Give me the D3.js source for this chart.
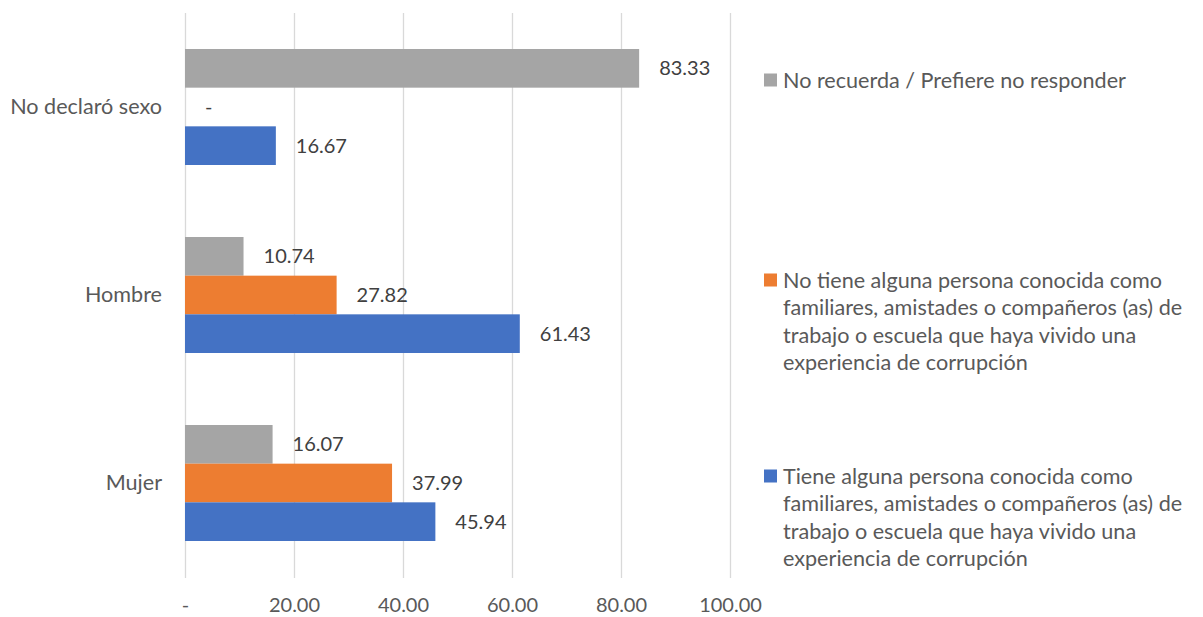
<!DOCTYPE html>
<html>
<head>
<meta charset="utf-8">
<script src="https://cdn.jsdelivr.net/npm/d3@7"></script>
<style>
  html, body { margin: 0; padding: 0; background: #fff; }
  svg { display: block; }
  text { font-family: Lato, "Open Sans", sans-serif; }
</style>
</head>
<body>
<svg id="chart" width="1203" height="617"></svg>
<script>
// Categories, top to bottom
const categories = ["No declaró sexo", "Hombre", "Mujer"];

// Series, in legend order (top to bottom inside each group)
const seriesNames = [
  "No recuerda / Prefiere no responder",
  "No tiene alguna persona conocida como familiares, amistades o compañeros (as) de trabajo o escuela que haya vivido una experiencia de corrupción",
  "Tiene alguna persona conocida como familiares, amistades o compañeros (as) de trabajo o escuela que haya vivido una experiencia de corrupción"
];
const noRecuerda = [83.33, 10.74, 16.07];
const noTiene    = [0, 27.82, 37.99];
const tiene      = [16.67, 61.43, 45.94];
const seriesValues = [noRecuerda, noTiene, tiene];
const seriesColors = ["#A5A5A5", "#ED7D31", "#4472C4"];

const xTicks = [0, 20, 40, 60, 80, 100];

const svg = d3.select("#chart");
const plot = { left: 185, right: 730, top: 13, bottom: 577 };
const numSize = 20, textSize = 21.6;

const x = d3.scaleLinear().domain([0, 100]).range([plot.left, plot.right]);
const y0 = d3.scaleBand().domain(categories).range([plot.top, plot.bottom])
  .paddingInner(0.383).paddingOuter(0.1915);
const y1 = d3.scaleBand().domain(d3.range(seriesNames.length)).range([0, y0.bandwidth()]);

// Accounting-style number format: zero shown as a dash
const fmt = v => v === 0 ? "-" : d3.format(",.2f")(v);

// Vertical gridlines
svg.append("g").selectAll("line").data(xTicks).join("line")
  .attr("x1", d => x(d) + 0.5).attr("x2", d => x(d) + 0.5)
  .attr("y1", plot.top).attr("y2", plot.bottom + 1)
  .attr("stroke", "#D9D9D9").attr("stroke-width", 1.3);

// X axis tick labels
const xAxis = d3.axisBottom(x).tickValues(xTicks).tickFormat(fmt).tickSize(0).tickPadding(0);
const gx = svg.append("g").attr("transform", `translate(0,${plot.bottom + 28})`).call(xAxis);
gx.select(".domain").remove();
gx.selectAll("text").attr("font-family", "Lato, 'Open Sans', sans-serif")
  .attr("font-size", numSize).attr("fill", "#595959").attr("dy", "0.35em").attr("y", 0);

// Category labels
const yAxis = d3.axisLeft(y0).tickSize(0).tickPadding(23);
const gy = svg.append("g").attr("transform", `translate(${plot.left},0)`).call(yAxis);
gy.select(".domain").remove();
gy.selectAll("text").attr("font-family", "Lato, 'Open Sans', sans-serif")
  .attr("font-size", textSize).attr("fill", "#595959");

// Bars and value labels
const rows = [];
categories.forEach((c, ci) => {
  seriesValues.forEach((vals, si) => rows.push({ cat: c, s: si, v: vals[ci] }));
});

const groups = svg.append("g");
groups.selectAll("rect").data(rows).join("rect")
  .attr("x", x(0))
  .attr("y", d => y0(d.cat) + y1(d.s))
  .attr("width", d => x(d.v) - x(0))
  .attr("height", y1.bandwidth())
  .attr("fill", d => seriesColors[d.s]);

groups.selectAll("text").data(rows).join("text")
  .attr("x", d => x(d.v) + 20)
  .attr("y", d => y0(d.cat) + y1(d.s) + y1.bandwidth() / 2)
  .attr("dy", "0.35em")
  .attr("font-size", numSize)
  .attr("fill", "#404040")
  .text(d => fmt(d.v));

// Legend
const legend = svg.append("g");
const legendX = 764, textX = 783, lineH = 27.6, maxW = 415;
const legendTops = [80, 280, 476];

function wrapLines(str, size) {
  const probe = legend.append("text").attr("font-size", size);
  const words = str.split(" ");
  const lines = [];
  let cur = "";
  words.forEach(w => {
    const test = cur ? cur + " " + w : w;
    probe.text(test);
    if (probe.node().getComputedTextLength() > maxW && cur) {
      lines.push(cur); cur = w;
    } else cur = test;
  });
  if (cur) lines.push(cur);
  probe.remove();
  return lines;
}

seriesNames.forEach((name, i) => {
  const g = legend.append("g");
  g.append("rect")
    .attr("x", legendX).attr("y", legendTops[i] - 6.5)
    .attr("width", 13).attr("height", 13)
    .attr("fill", seriesColors[i]);
  const lines = wrapLines(name, textSize);
  const t = g.append("text").attr("font-size", textSize).attr("fill", "#595959");
  lines.forEach((ln, k) => {
    t.append("tspan").attr("x", textX).attr("y", legendTops[i] + k * lineH)
      .attr("dy", "0.35em").text(ln);
  });
});
</script>
</body>
</html>
